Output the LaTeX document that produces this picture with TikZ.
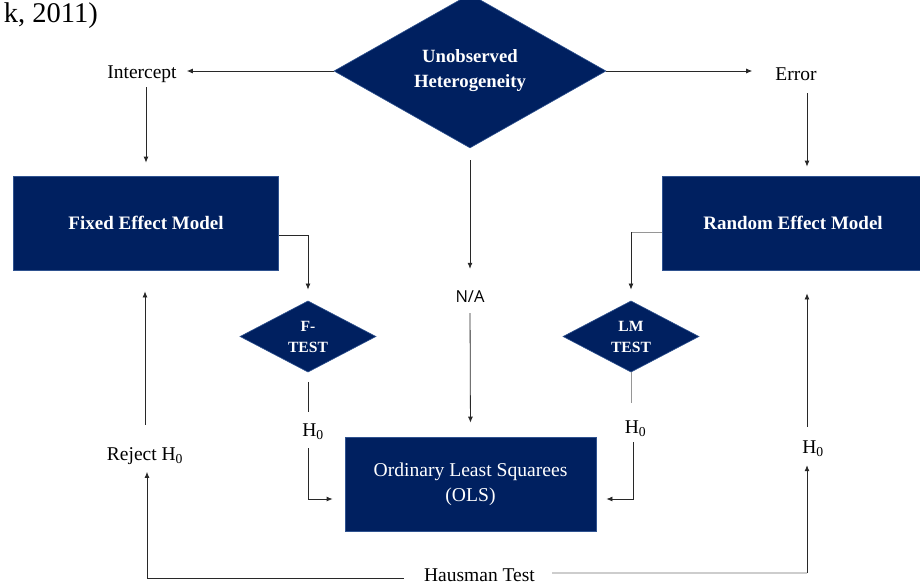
\documentclass[tikz,border=0pt]{standalone}
\usepackage{fontspec}
\setmainfont{Liberation Serif}
\newfontfamily\nafont{Open Sans}
\usetikzlibrary{shapes.geometric,arrows.meta}
\definecolor{navy}{RGB}{0,32,96}
\definecolor{navyedge}{RGB}{47,82,143}
\definecolor{lgray}{RGB}{150,150,150}
\definecolor{vlgray}{RGB}{205,205,205}
\definecolor{dline}{RGB}{40,40,40}
\tikzset{
  boxnode/.style={rectangle,fill=navy,draw=navyedge,line width=0.8pt,text=white,align=center,inner sep=0pt},
  dianode/.style={diamond,fill=navy,draw=navyedge,line width=0.6pt,text=white,align=center,inner sep=0pt},
  lbl/.style={inner sep=0pt,text height=13.5pt,text depth=4.5pt,font=\fontsize{19.5}{24}\selectfont},
  nalbl/.style={inner sep=0pt,text height=12pt,text depth=3.5pt,font=\nafont\fontsize{16.5}{20}\selectfont},
  conn/.style={draw=dline,line width=0.8pt},
  arr/.style={conn,-{Latex[length=6pt,width=5pt]}},
}
\begin{document}
\begin{tikzpicture}[x=1pt,y=-1pt]
\useasboundingbox (0,0) rectangle (920,587);
% caption fragment
\node[anchor=base east,inner sep=0pt,font=\fontsize{28.5}{34}\selectfont] (cap) at (98,22) {k, 2011)};
% main shapes
\node[dianode,minimum width=272pt,minimum height=128pt,font=\bfseries\fontsize{18.7}{25}\selectfont] (uh) at (470,71) {Unobserved\\Heterogeneity};
\node[boxnode,minimum width=265pt,minimum height=94pt,font=\bfseries\fontsize{19}{24}\selectfont] (fem) at (146,223) {Fixed Effect Model};
\node[boxnode,minimum width=262pt,minimum height=94pt,font=\bfseries\fontsize{19}{24}\selectfont] (rem) at (793,223) {Random Effect Model};
\node[dianode,minimum width=136pt,minimum height=65pt,font=\bfseries\fontsize{15.6}{21}\selectfont] (ft) at (308,336.5) {F-\\TEST};
\node[dianode,minimum width=136pt,minimum height=65pt,font=\bfseries\fontsize{15.6}{21}\selectfont] (lt) at (631,336.5) {LM\\TEST};
\node[boxnode,minimum width=251pt,minimum height=94pt,font=\fontsize{19.6}{25}\selectfont] (ols) at (470.5,484) {Ordinary Least Squarees\\(OLS)};
% labels
\node[lbl] (icp) at (142,73.7) {Intercept};
\node[lbl] (err) at (796,76.2) {Error};
\node[nalbl] (na) at (470,298) {N/A};
\node[lbl] (h1) at (313,431.7) {H\textsubscript{0}};
\node[lbl] (h2) at (635.5,429.2) {H\textsubscript{0}};
\node[lbl] (h3) at (813,448.5) {H\textsubscript{0}};
\node[lbl] (rj) at (145,455.7) {Reject H\textsubscript{0}};
\node[lbl] (hm) at (479.5,577.2) {Hausman Test};
\coordinate (rcol) at (807,0);
\coordinate (hmr) at (807,573);
\coordinate (lmt) at (631,232);
% connectors
\draw[arr,shorten >=10pt] (uh.west) -- (uh.west -| icp.east);
\draw[arr,shorten >=23pt] (uh.east) -- (uh.east -| err.west);
\draw[arr,shorten <=4.3pt,shorten >=13pt] (icp.south -| fem.north) -- (fem.north);
\draw[arr,shorten <=8pt,shorten >=9pt] (rcol |- err.south) -- (rcol |- rem.north);
\draw[arr,shorten >=11pt] ([yshift=-12pt]fem.east) -| (ft.north);
\draw[conn,draw=lgray] (lmt -| rem.west) -- (lmt);
\draw[arr,shorten >=11pt] (lmt) -- (lt.north);
\draw[arr,shorten <=12pt,shorten >=21.25pt] (uh.south) -- (na.north);
\draw[arr,shorten <=7.25pt,shorten >=14pt] (na.south) -- (ols.north);
\draw[conn,shorten <=9.5pt,shorten >=10.7pt] (ft.south) -- (ft.south |- h1.north);
\draw[arr,shorten <=7.3pt,shorten >=12pt] (ft.south |- h1.south) |- ([yshift=-15pt]ols.west);
\draw[conn,draw=lgray,shorten >=17.2pt] (lt.south) -- (lt.south |- h2.north);
\draw[arr,shorten <=3.8pt,shorten >=10pt] ([xshift=2pt]lt.south |- h2.south) |- ([yshift=-15pt]ols.east);
\draw[arr,shorten <=21.7pt,shorten >=21pt] (rj.north) -- (rj.north |- fem.south);
\draw[arr,shorten <=20pt,shorten >=7pt] ([yshift=-1pt]hm.west) -| ([xshift=2pt]rj.south);
\draw[conn,draw=vlgray,line width=1.2pt,shorten <=17pt] (hmr -| hm.east) -- (hmr);
\draw[arr,shorten >=7.5pt] (hmr) -- (rcol |- h3.south);
\draw[arr,shorten <=12.5pt,shorten >=23pt] (rcol |- h3.north) -- (rcol |- rem.south);
\end{tikzpicture}
\end{document}
